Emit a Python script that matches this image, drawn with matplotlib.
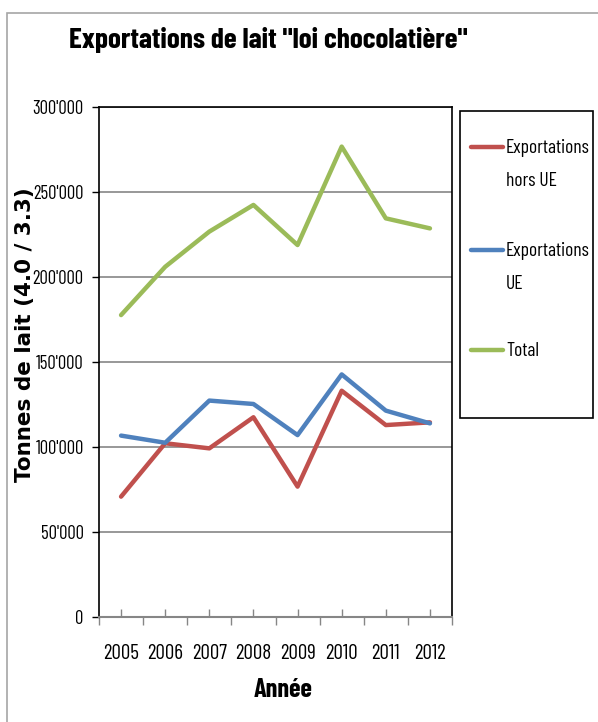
import matplotlib
matplotlib.use("Agg")
import matplotlib.pyplot as plt
from matplotlib.lines import Line2D
from matplotlib.patches import Rectangle
from matplotlib.ticker import FuncFormatter, MultipleLocator, FixedLocator

years = ["2005", "2006", "2007", "2008", "2009", "2010", "2011", "2012"]
hors_ue = [70800, 102200, 99200, 117500, 76700, 133100, 112900, 114500]
ue = [106700, 102500, 127300, 125300, 107000, 142700, 121400, 113900]
total = [177600, 206000, 226700, 242400, 218800, 276700, 234500, 228600]

series_labels = ["Exportations\nhors UE", "Exportations\nUE", "Total"]
series_colors = ["#C0504D", "#4F81BD", "#9BBB59"]

cond = ["Barlow Condensed", "DejaVu Sans"]
W, H = 598, 722
GROW = 1.12  # reference text is squeezed sideways, so go a bit past the width fit

fig = plt.figure(figsize=(5.98, 7.22), dpi=100)
renderer = fig.canvas.get_renderer()


def fit(t, target_px, horizontal=True, grow=GROW):
    # scale the font so the text spans the size
    bb = t.get_window_extent(renderer)
    size = bb.width if horizontal else bb.height
    t.set_fontsize(t.get_fontsize() * target_px / size * grow)
    return t


fig.add_artist(Rectangle((7 / W, -0.1), 1.2, 0.1 + (H - 13) / H,
                         transform=fig.transFigure, fill=False,
                         edgecolor="#A6A6A6", linewidth=1.2))

ax = fig.add_axes([99 / W, 105 / H, 353 / W, 510 / H])
x = list(range(len(years)))
for vals, col in zip([hors_ue, ue, total], series_colors):
    ax.plot(x, vals, color=col, linewidth=3.2, solid_capstyle="round", zorder=3)

ax.set_xlim(-0.5, len(years) - 0.5)
ax.set_ylim(0, 300000)
ax.yaxis.set_major_locator(MultipleLocator(50000))
ax.yaxis.set_major_formatter(FuncFormatter(lambda v, p: "0" if v == 0 else f"{int(v):,}".replace(",", "'")))
ax.grid(axis="y", color="#868686", linewidth=1.2)
ax.set_axisbelow(True)

ax.xaxis.set_major_locator(FixedLocator([i - 0.5 for i in range(len(years) + 1)]))
ax.xaxis.set_minor_locator(FixedLocator(x))
ax.set_xticklabels([])
ax.tick_params(axis="x", which="major", direction="out", length=6, color="#868686", width=1)
ax.tick_params(axis="x", which="minor", direction="in", length=6, color="#868686", width=1)

xt = [ax.text(i, -0.071, yr, transform=ax.get_xaxis_transform(), ha="center", va="center",
              fontsize=14, family=cond) for i, yr in enumerate(years)]
size_x = fit(xt[0], 32).get_fontsize()
for t in xt:
    t.set_fontsize(size_x)

ax.tick_params(axis="y", direction="out", length=5, width=1, color="black", labelsize=12, pad=6)
fig.canvas.draw()
ylabs = ax.get_yticklabels()
for lab in ylabs:
    lab.set_family(cond)
size_y = fit(ylabs[-1], 45).get_fontsize()
ax.tick_params(axis="y", labelsize=size_y)

for side in ["left", "top", "right"]:
    ax.spines[side].set_color("black")
    ax.spines[side].set_linewidth(1.2)
ax.spines["bottom"].set_color("#868686")
ax.spines["bottom"].set_linewidth(1.5)

yl = fig.text(25 / W, 1 - 335 / H, "Tonnes de lait (4.0 / 3.3)", rotation=90, ha="center", va="center",
              fontsize=13.5, fontweight="bold", family=["DejaVu Sans"])
fit(yl, 296, horizontal=False, grow=1.0)

title = fig.text(268 / W, 1 - 40 / H, 'Exportations de lait "loi chocolatière"', ha="center", va="center",
                 fontsize=21, fontweight="bold", family=cond)
fit(title, 357)
xl = fig.text(283 / W, 1 - 690 / H, "Année", ha="center", va="center",
              fontsize=16, fontweight="bold", family=cond)
fit(xl, 53)

# legend box
fig.add_artist(Rectangle((460 / W, 1 - 418 / H), 133 / W, 307 / H,
                         transform=fig.transFigure, fill=False, edgecolor="black", linewidth=1.2))
legend_y = [147, 250, 350]
probe = fig.text(0, 0, "Exportations", fontsize=12, family=cond)
size_leg = fit(probe, 75).get_fontsize()
probe.remove()
for lab, col, ly in zip(series_labels, series_colors, legend_y):
    yf = 1 - ly / H
    fig.add_artist(Line2D([471 / W, 503 / W], [yf, yf], transform=fig.transFigure,
                          color=col, linewidth=3.2, solid_capstyle="round"))
    for k, line in enumerate(lab.split("\n")):
        fig.text(506 / W, 1 - (ly + 1 + 33 * k) / H, line, ha="left", va="center",
                 fontsize=size_leg, family=cond)

fig.savefig("out.png", dpi=100)
